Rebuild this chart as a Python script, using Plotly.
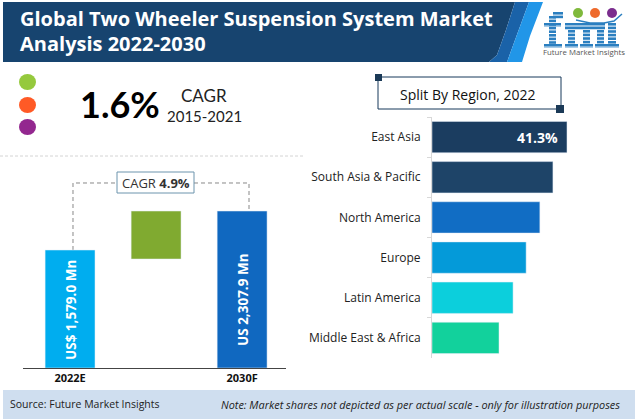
import plotly.graph_objects as go

W = 635
H = 419

# market bars, left panel
market_labels = ["2022E", "Growth", "2030F"]
market_values = [1579.0, 2307.9, 2307.9]
market_lows = [-626, 1411, -626]
market_colors = ["#00adef", "#80aa30", "#1068c0"]

# regional split, right panel
regions = ["East Asia", "South Asia & Pacific", "North America", "Europe", "Latin America", "Middle East & Africa"]
region_shares = [41.3, 37.0, 33.0, 28.8, 24.8, 20.5]
region_colors = ["#1b3d60", "#1e4468", "#116dc4", "#049ad9", "#0ccfdc", "#12d19c"]

dot_colors = ["#95c93d", "#ff5a26", "#93278f"]
logo_dot_colors = ["#7fb93c", "#ee6a2c", "#7b2d8e"]


def px(x):
    return x / W


def py(y):
    return 1 - y / H


def label(x, y, text, size, color="#111111", family="Open Sans", anchor="center", angle=0):
    fig.add_annotation(x=px(x), y=py(y), xref="paper", yref="paper", text=text, showarrow=False,
                       xanchor=anchor, yanchor="middle", textangle=angle,
                       font=dict(size=size, color=color, family=family))


def box(x0, y0, x1, y1, fill, line=None, width=1):
    fig.add_shape(type="rect", xref="paper", yref="paper", x0=px(x0), x1=px(x1), y0=py(y0), y1=py(y1),
                  fillcolor=fill, line=dict(color=line or fill, width=width if line else 0), layer="below")


def path(points, fill=None, color=None, width=1, dash="solid"):
    d = "M " + " L ".join(f"{px(a):.5f},{py(b):.5f}" for a, b in points)
    if fill:
        d += " Z"
    fig.add_shape(type="path", xref="paper", yref="paper", path=d, fillcolor=fill,
                  line=dict(color=color or fill, width=width if color else 0, dash=dash), layer="below")


def striped(x0, y0, x1, y1):
    # logo letters are made of thin horizontal bands
    y = y0
    while y < y1:
        box(x0, y, x1, min(y + 2.6, y1), "#2b7fc0")
        y += 3.6


fig = go.Figure()

fig.add_trace(go.Bar(x=market_labels, y=[v - b for v, b in zip(market_values, market_lows)], base=market_lows,
                     marker_color=market_colors, width=0.58, xaxis="x", yaxis="y", hoverinfo="skip"))
fig.add_trace(go.Bar(x=region_shares, y=regions, orientation="h", marker_color=region_colors, width=0.78,
                     xaxis="x2", yaxis="y2", hoverinfo="skip"))

fig.update_layout(
    width=W, height=H, margin=dict(l=0, r=0, t=0, b=0), showlegend=False,
    paper_bgcolor="white", plot_bgcolor="rgba(0,0,0,0)", font=dict(family="Open Sans"),
    xaxis=dict(domain=[px(23), px(286)], range=[-0.547, 2.51], tickmode="array", tickvals=["2022E", "2030F"],
               ticktext=["<b>2022E</b>", "<b>2030F</b>"], showgrid=False, showline=True, linecolor="#444444",
               linewidth=1, ticks="", tickfont=dict(size=11, color="#111111", family="Open Sans"),
               fixedrange=True),
    yaxis=dict(domain=[py(368), py(190)], range=[-626, -626 + 178 / 0.0535], visible=False, fixedrange=True),
    xaxis2=dict(domain=[px(432), px(600)], range=[0, 51.4], visible=False, fixedrange=True),
    yaxis2=dict(domain=[py(358), py(117)], autorange="reversed", anchor="x2", position=px(432), showgrid=False,
                showline=True, linecolor="#d8d8d8", linewidth=1, ticks="outside", ticklen=4, tickcolor="#d8d8d8",
                tickson="boundaries", tickfont=dict(size=12, color="#222222", family="Open Sans"),
                ticklabelstandoff=8, fixedrange=True),
)

# header band
path([(3, 2), (515, 2), (506, 30), (497, 55), (489, 62), (3, 62)], fill="#17446f")
path([(515, 2), (529, 2), (515, 40), (507, 62), (489, 62), (497, 55), (506, 30)], fill="#1a62a8")
path([(529, 2), (543, 2), (530, 36), (522, 62), (507, 62), (515, 40)], fill="#2196e8")
label(18, 19, "<b>Global Two Wheeler Suspension System Market</b>", 20, "white", anchor="left")
label(18, 43, "<b>Analysis 2022-2030</b>", 20, "white", anchor="left")

# logo: f, m, i
striped(549, 16, 556, 44)
striped(553, 12, 563, 19)
striped(544, 23, 561, 27)
striped(544, 44, 562, 48)
striped(565, 23, 605, 30)
striped(568, 30, 575, 44)
striped(583, 30, 590, 44)
striped(597, 30, 604, 44)
striped(565, 44, 578, 48)
striped(580, 44, 593, 48)
striped(595, 44, 606, 48)
striped(608, 23, 616, 44)
striped(606, 44, 619, 48)
path([(576, 20), (590, 23), (604, 23), (614, 21), (622, 14)], color="#2b7fc0", width=1.5)
for cx, c in zip([578, 595, 612], logo_dot_colors):
    fig.add_shape(type="circle", xref="paper", yref="paper", x0=px(cx - 5), x1=px(cx + 5), y0=py(18), y1=py(8),
                  fillcolor=c, line_width=0)
label(584, 52, "Future Market Insights", 7.8, "#555555", "Open Sans")

# cagr block
for cy, c in zip([82, 105, 127], dot_colors):
    fig.add_shape(type="circle", xref="paper", yref="paper", x0=px(19), x1=px(36), y0=py(cy + 8), y1=py(cy - 8),
                  fillcolor=c, line_width=0)
label(120, 104, "<b>1.6%</b>", 36, "#000000", "Lato")
label(204, 96, "CAGR", 17, "#222222", "Lato")
label(204, 116, "2015-2021", 15, "#222222", "Lato")
path([(0, 156), (303, 156)], color="#d4d4d4", dash="3px,2px")

# connector between the bars
path([(73, 250), (73, 183), (117, 183)], color="#888888", dash="4px,3px")
path([(194, 183), (249, 183), (249, 211)], color="#888888", dash="4px,3px")
box(117, 172, 194, 193, "white", "#6d94ad")
label(155.5, 183, "CAGR <b>4.9%</b>", 13, "#333333")
label(71, 310, "<b>US$ 1,579.0 Mn</b>", 13.5, "white", angle=-90)
label(243, 300, "<b>US 2,307.9 Mn</b>", 13.5, "white", angle=-90)

# split box
box(378, 77, 561, 109, "white", "#17385a")
box(375, 74, 382, 81, "#1b3a57")
box(556, 105, 564, 113, "#1b3a57")
label(468, 94, "Split By Region, 2022", 14, "#111111")
label(537, 137, "<b>41.3%</b>", 14, "white")

# footer
box(3, 390, 635, 419, "#cfdeef")
label(8, 404, "Source: Future Market Insights", 10.5, "#222222", anchor="left")
label(622, 404, "<i>Note: Market shares not depicted as per actual scale - only for illustration purposes</i>", 10.9, "#222222", anchor="right")

fig.write_html("out.html", config=dict(displayModeBar=False), post_script="document.body.style.margin='0';")
